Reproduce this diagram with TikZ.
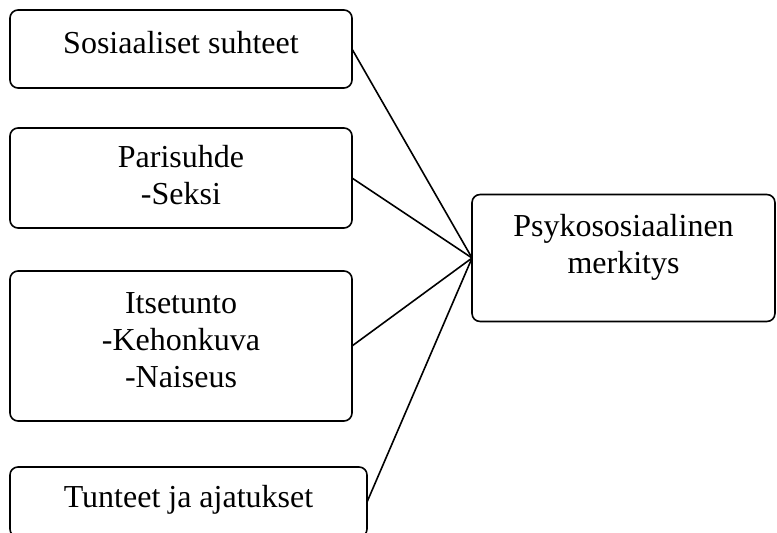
\documentclass[tikz,border=0pt]{standalone}
\usepackage{fontspec}
\setmainfont{Liberation Serif}
\usepackage{tikz}

\begin{document}
\begin{tikzpicture}[x = 0.375pt, y = -0.375pt,
    box/.style = {draw, line width=0.6pt, rounded corners=3pt, inner sep=0pt,
      outer sep=0pt, align=center, font=\fontsize{12}{14}\selectfont}]
  \useasboundingbox (0,0) rectangle (777,533);

  % right-hand box
  \node[box, minimum width=113.6pt, minimum height=47.6pt, text depth=10.5pt] (psyko)
    at (623.5,258) {Psykososiaalinen\\merkitys};

  % boxes on the left
  \foreach \name/\x/\y/\w/\h/\d/\txt in {
    sosiaaliset/181/49/128.25pt/29.25pt/5.2pt/{Sosiaaliset suhteet},
    parisuhde/181/178/128.25pt/37.5pt/2.2pt/{Parisuhde\\-Seksi},
    itsetunto/181/346/128.25pt/56.25pt/4.5pt/{Itsetunto\\-Kehonkuva\\-Naiseus},
    tunteet/188.5/502/133.9pt/26.25pt/4pt/{Tunteet ja ajatukset}}{
      \node[box, minimum width=\w, minimum height=\h, text depth=\d] (\name) at (\x,\y) {\txt};
    }

  % draw the connectors after the boxes
  \foreach \name in {sosiaaliset,parisuhde,itsetunto,tunteet}
    \draw[line width=0.6pt] (\name.east) -- (psyko.west);

\end{tikzpicture}
\end{document}
